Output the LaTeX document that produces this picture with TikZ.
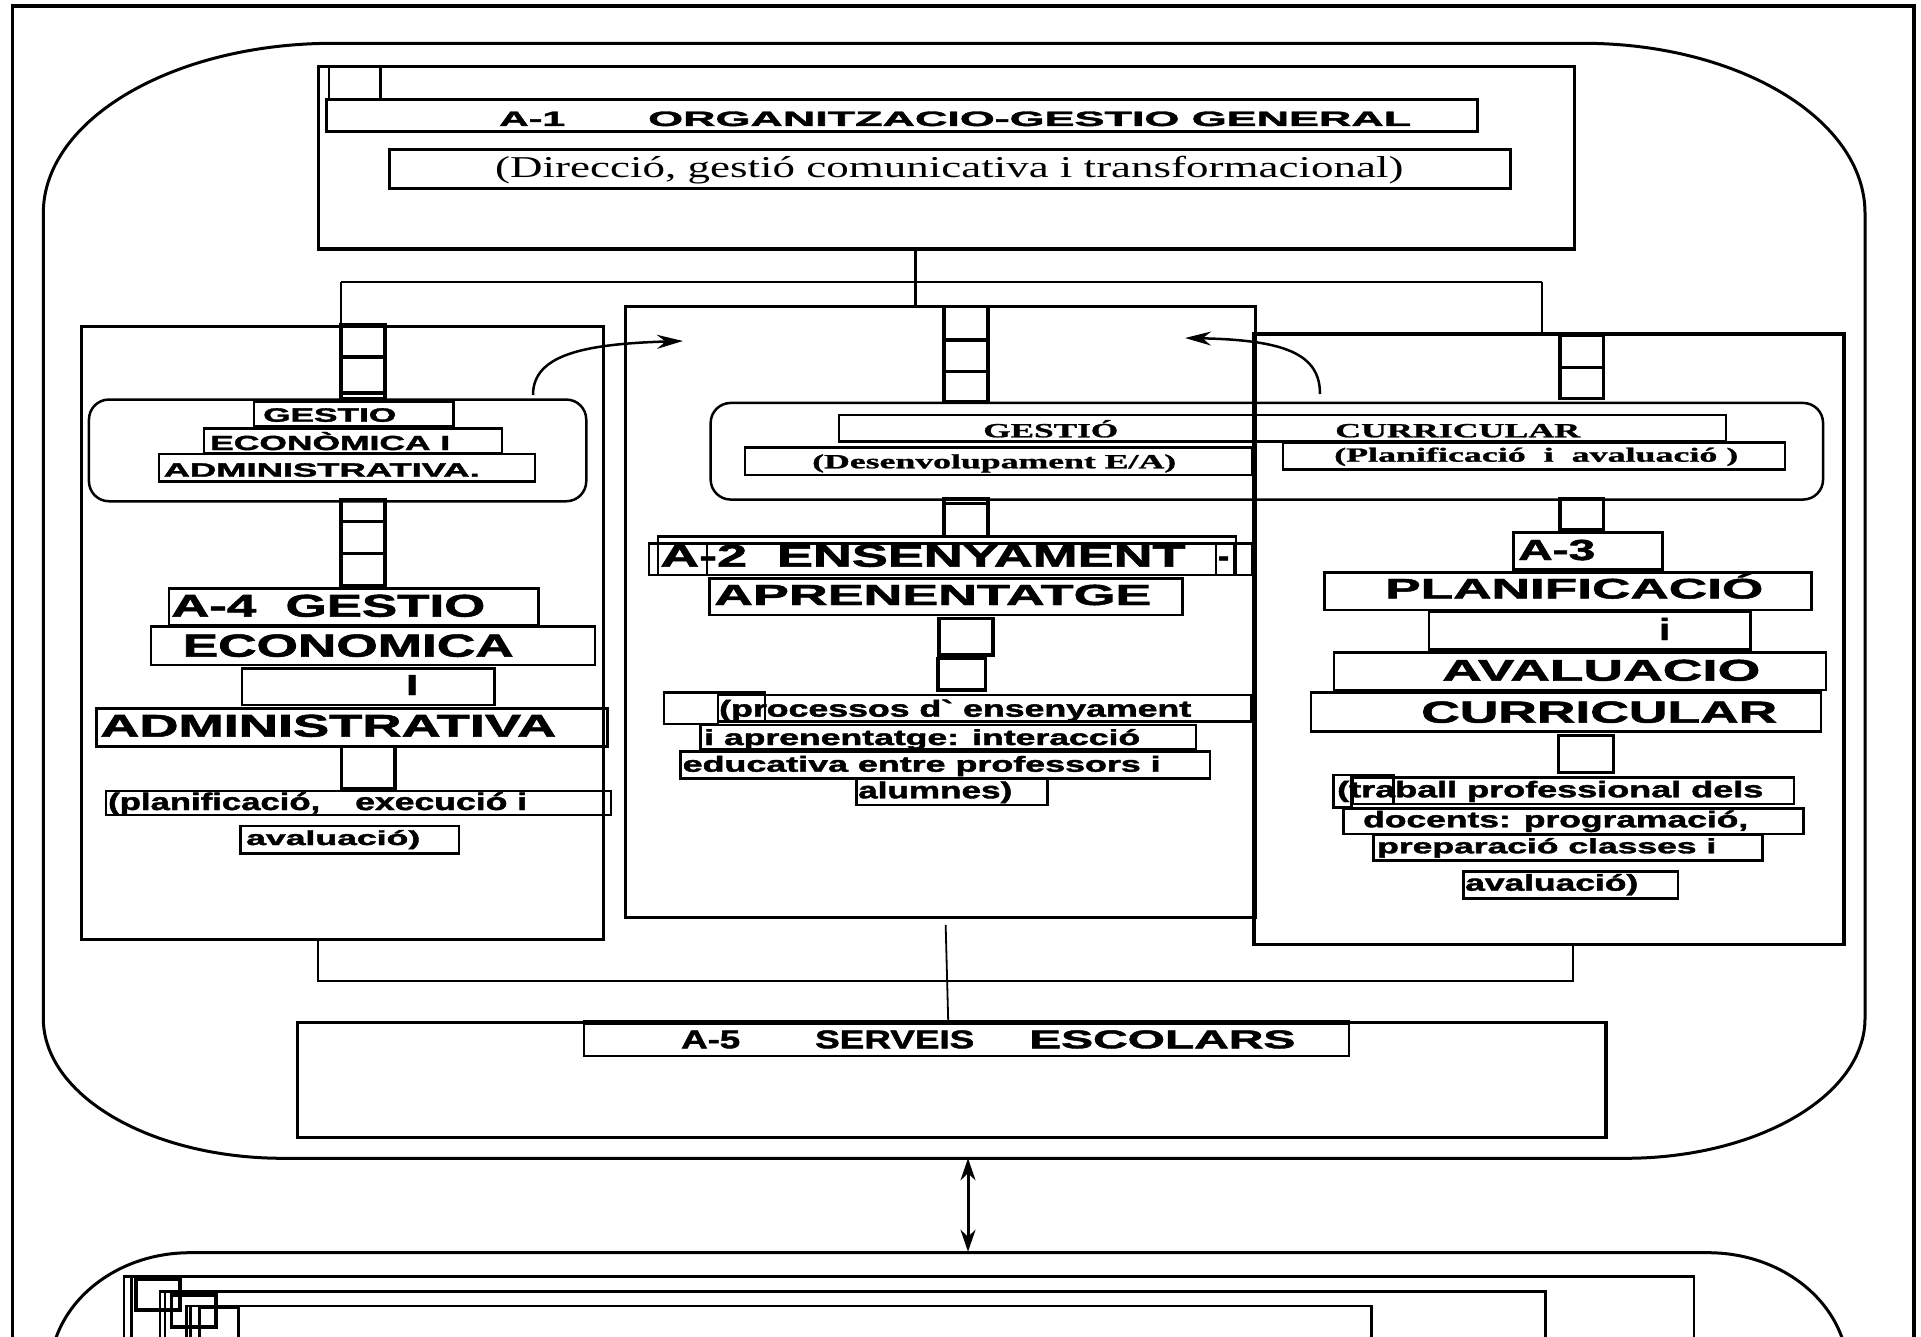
\documentclass[tikz,border=0pt]{standalone}
\usepackage{fontspec}
\setmainfont{Liberation Sans}[Ligatures=TeXOff, BoldFeatures={FakeBold=1.6}]
\newfontfamily\timesf{Liberation Serif}[BoldFeatures={FakeBold=1}]
\usepackage{graphicx}
\usetikzlibrary{arrows.meta}
\newcommand{\fitt}[3]{\resizebox{#1pt}{#2pt}{\vphantom{A}\smash{#3}}}

\begin{document}
\begin{tikzpicture}[x=1pt,y=-1pt]
\tikzstyle{panel} = [rectangle, draw=black, line width=3.3pt, anchor=north west, inner sep=0pt]
\tikzstyle{roundbox} = [panel, rounded corners=20pt, line width=2.5pt]
\tikzstyle{tbox} = [draw=black, line width=2.5pt]
\tikzstyle{rung} = [draw=black, line width=3.2pt]
\tikzstyle{outline} = [draw=black, line width=3.3pt]
\tikzstyle{txt} = [anchor=base west, inner sep=0pt, font=\bfseries]
\tikzstyle{serif} = [txt, font=\timesf\bfseries]
\tikzstyle{link} = [line width=2.8pt]
\tikzstyle{arrow} = [line width=2.5pt,-{Stealth[length=26pt,width=14pt]}]
\tikzstyle{dblarrow} = [line width=3pt,{Stealth[length=22pt,width=15pt]}-{Stealth[length=22pt,width=15pt]}]

\useasboundingbox (0,0) rectangle (1921,1337);

%frames
\draw[outline] (12.7,1345) -- (12.7,6) -- (1914,6) -- (1914,1345);
\draw[outline, line width=3pt] (333.3,43.3) -- (1583,43.3) arc[start angle=270, end angle=360, x radius=282, y radius=170]
  -- (1865,1018.3) arc[start angle=0, end angle=90, x radius=240, y radius=140]
  -- (283.3,1158.3) arc[start angle=90, end angle=180, x radius=240, y radius=140]
  -- (43.3,213.3) arc[start angle=180, end angle=270, x radius=290, y radius=170] -- cycle;
\draw[outline, line width=3pt] (50,1372.7) arc[start angle=180, end angle=270, x radius=140, y radius=120]
  -- (1708,1252.7) arc[start angle=270, end angle=360, x radius=140, y radius=120];

%nodes
\node[panel, minimum width=1256.2, minimum height=182.3] (a1) at (316.6,65) {};
\node[panel, minimum width=522, minimum height=613] (a4) at (80,325) {};
\node[panel, minimum width=630, minimum height=611] (a2) at (624,305) {};
\node[panel, minimum width=589.8, minimum height=610.4] (a3) at (1252.4,332.3) {};
\node[panel, minimum width=1308.7, minimum height=115] (a5) at (295.7,1020.7) {};
\node[roundbox, minimum width=497.3, minimum height=101.7] (gea) at (87.7,398.3) {};
\node[roundbox, minimum width=1112.4, minimum height=96.6] (gc) at (709.4,401.7) {};
\node[panel, line width=2.4pt, minimum width=765.3, minimum height=32.3] (a5bar) at (582.7,1022.7) {};
\draw[line width=4.5pt] (a5bar.north west) -- (a5bar.north east);

% A-1 bars
\draw[tbox] (329,66.7) rectangle (380.4,99.3);
\draw[tbox] (326.5,99.3) rectangle (1477.4,131.7);
\draw[tbox] (389.6,149.3) rectangle (1510.6,188.3);

% A-4 column
\draw[rung] (341,325) rectangle (385,357);
\draw[rung] (341,357) rectangle (385,393);
\draw[rung] (341,393) rectangle (385,398.3);
\draw[tbox] (254,401.7) rectangle (453.7,426.7);
\draw[tbox] (204.2,428.3) rectangle (501.8,453.3);
\draw[tbox] (159,454) rectangle (535,481.7);
\draw[rung] (341,500) rectangle (385,521.7);
\draw[rung] (341,521.7) rectangle (385,553.3);
\draw[rung] (341,553.3) rectangle (385,586);
\draw[tbox] (169,588.3) rectangle (538.7,625.7);
\draw[tbox] (151,626.7) rectangle (595,665);
\draw[tbox] (242,668.3) rectangle (494.4,705);
\draw[tbox] (96.4,708.3) rectangle (607.3,746.7);
\draw[rung] (341.3,746.7) rectangle (394.9,788.3);
\draw[tbox] (105.9,791) rectangle (611,815);
\draw[tbox] (240.6,826) rectangle (459.2,853.3);

% A-2 column
\draw[rung] (944,306.7) rectangle (988,340);
\draw[rung] (944,340) rectangle (988,371.7);
\draw[rung] (944,371.7) rectangle (988,401.7);
\draw[tbox] (838.8,415) rectangle (1725.9,441.7);
\draw[tbox] (745,447.7) rectangle (1251.8,475);
\draw[tbox] (1283,442.3) rectangle (1785.1,469.3);
\draw[rung] (944,498.3) rectangle (988,503.3);
\draw[rung] (944,503.3) rectangle (988,536.7);
\draw[tbox] (658,536.7) rectangle (1236,575);
\draw[tbox] (649,543.3) rectangle (1251.8,575);
\draw[tbox] (649,543.3) rectangle (707,575);
\draw[tbox] (1216,543.3) rectangle (1234,575);
\draw[tbox] (709.4,578.3) rectangle (1182.6,615);
\draw[rung] (939,618.3) rectangle (992.9,655);
\draw[rung] (938,658.3) rectangle (985.2,690);
\draw[tbox] (663.8,692.7) rectangle (718,724);
\draw[tbox] (718,692.7) rectangle (765,721.7);
\draw[tbox] (718.2,695) rectangle (1251.7,721.7);
\draw[tbox] (700.4,725) rectangle (1195.9,749.3);
\draw[tbox] (680.3,751.7) rectangle (1210.2,778.3);
\draw[tbox] (856.6,778.3) rectangle (1047.7,805);

% A-3 column
\draw[rung] (1560,335) rectangle (1603.5,367.3);
\draw[rung] (1560,367.3) rectangle (1603.5,398.3);
\draw[rung] (1560,498.3) rectangle (1603.5,530);
\draw[tbox] (1513.7,532.7) rectangle (1662.7,569.3);
\draw[tbox] (1324.7,572.7) rectangle (1811.6,610);
\draw[tbox] (1428.8,611.7) rectangle (1750.4,649.3);
\draw[tbox] (1334,652.7) rectangle (1826,690);
\draw[tbox] (1310.8,692.7) rectangle (1821,731.7);
\draw[rung] (1558.6,735.7) rectangle (1613.7,772.7);
\draw[tbox] (1333.3,775) rectangle (1351.6,807.3);
\draw[tbox] (1351.6,775) rectangle (1393.3,804);
\draw[tbox] (1352.4,777.3) rectangle (1794.1,804);
\draw[tbox] (1343.5,808.3) rectangle (1803.5,834);
\draw[tbox] (1373.7,835) rectangle (1762.7,860.7);
\draw[tbox] (1463.5,871.7) rectangle (1678.2,898.3);

% lower frames
\draw[tbox] (124,1345) -- (124,1276.7) -- (1694,1276.7) -- (1694,1345);
\draw[tbox] (131.7,1345) -- (131.7,1276.7);
\draw[rung] (136,1279.3) rectangle (180,1310);
\draw[tbox] (160,1345) -- (160,1291.7) -- (1545.5,1291.7) -- (1545.5,1345);
\draw[tbox] (165,1345) -- (165,1291.7);
\draw[rung] (171.7,1295) rectangle (216,1327);
\draw[tbox] (186.7,1345) -- (186.7,1306) -- (1371.3,1306) -- (1371.3,1345);
\draw[tbox] (190.7,1345) -- (190.7,1306);
\draw[rung] (199.3,1307) rectangle (238.3,1345);

% texts
\node[txt] (a1num) at (499,126) {\fitt{66}{14.3}{A-1}};
\node[txt] (a1name) at (648,126) {\fitt{763}{14.3}{ORGANITZACIO-GESTIO GENERAL}};
\node[txt, font=\timesf] (a1sub) at (495,178) {\fitt{908}{20}{(Direcció, gestió comunicativa i transformacional)}};

\node[txt] (geaa) at (263,421.7) {\fitt{133}{13.3}{GESTIO}};
\node[txt] (geab) at (210,450) {\fitt{240}{14}{ECONÒMICA I}};
\node[txt] (geac) at (163.5,476.7) {\fitt{316}{13.3}{ADMINISTRATIVA.}};
\node[txt] (a4a) at (171,616.7) {\fitt{314}{21.7}{A-4~~GESTIO}};
\node[txt] (a4b) at (182.5,656.7) {\fitt{331}{22}{ECONOMICA}};
\node[txt] (a4c) at (406,695) {\fitt{12}{20}{I}};
\node[txt] (a4d) at (100,736.7) {\fitt{456}{21.7}{ADMINISTRATIVA}};
\node[txt] (a4e) at (108,810) {\fitt{212}{16.5}{(planificació,}};
\node[txt] (a4g) at (355,810) {\fitt{172}{16.5}{execució i}};
\node[txt] (a4f) at (246,845) {\fitt{174}{14}{avaluació)}};

\node[serif] (gca) at (983,437.3) {\fitt{135}{13.3}{GESTIÓ}};
\node[serif] (gcb) at (1335,437.3) {\fitt{245}{13.3}{CURRICULAR}};
\node[serif] (gcc) at (812,468.3) {\fitt{364}{13.3}{(Desenvolupament E/A)}};
\node[serif] (gcd) at (1334,461.7) {\fitt{404}{13.3}{(Planificació~~i~~avaluació~)}};

\node[txt] (a2a) at (660,566.7) {\fitt{525}{21.7}{A-2~~ENSENYAMENT}};
\node[txt] (a2dash) at (1218,566.7) {\fitt{11}{21.7}{-}};
\node[txt] (a2b) at (714,605) {\fitt{437}{20}{APRENENTATGE}};
\node[txt] (a2c) at (719,716.7) {\fitt{472}{16}{(processos d` ensenyament}};
\node[txt] (a2d) at (704,745) {\fitt{436}{15}{i aprenentatge: interacció}};
\node[txt] (a2e) at (682.5,771.7) {\fitt{478}{15}{educativa entre professors i}};
\node[txt] (a2f) at (858,798.3) {\fitt{154}{16}{alumnes)}};

\node[txt] (a3a) at (1518,560) {\fitt{77}{20}{A-3}};
\node[txt] (a3b) at (1385,598.5) {\fitt{378}{19.5}{PLANIFICACIÓ}};
\node[txt] (a3c) at (1659,640) {\fitt{11}{21}{i}};
\node[txt] (a3d) at (1442,680.7) {\fitt{318}{20.7}{AVALUACIO}};
\node[txt] (a3e) at (1421,722.7) {\fitt{356}{21}{CURRICULAR}};
\node[txt] (a3f) at (1337,797.3) {\fitt{426}{15.6}{(traball professional dels}};
\node[txt] (a3g) at (1363,827.3) {\fitt{385}{15.6}{docents: programació,}};
\node[txt] (a3h) at (1377,853.3) {\fitt{339}{14.3}{preparació classes i}};
\node[txt] (a3i) at (1465,890.7) {\fitt{173}{15.7}{avaluació)}};

\node[txt] (a5num) at (681,1048.3) {\fitt{59}{17.7}{A-5}};
\node[txt] (a5name) at (815,1048.3) {\fitt{159}{17.7}{SERVEIS}};
\node[txt] (a5kind) at (1029,1048.3) {\fitt{266}{17.7}{ESCOLARS}};

%connectors
\coordinate (hub) at (915.3,282);
\coordinate (lhub) at (341,282);
\coordinate (rhub) at (1542,282);
\coordinate (lfoot) at (318,981);
\coordinate (rfoot) at (1573,981);
\coordinate (lstart) at (533,395);
\coordinate (ltip) at (683,341);
\coordinate (rstart) at (1320,394);
\coordinate (rtip) at (1185,338);
\coordinate (upbot) at (968,1158.3);
\coordinate (lowtop) at (968,1251.7);

\draw[link] (a1.south -| hub) -- (a2.north -| hub);
\draw[link] (lhub) -- (rhub);
\draw[link] (lhub) -- (lhub |- a4.north);
\draw[link] (rhub) -- (rhub |- a3.north);
\draw[link] (a4.south -| lfoot) -- (lfoot) -- (rfoot) -- (a3.south -| rfoot);
\draw[line width=1.8pt] ([xshift=5pt,yshift=-5.7pt]a2.south) -- ([xshift=-18.3pt]a5bar.north);
\draw[arrow] (lstart) .. controls +(0,-40) and +(-100,3) .. (ltip);
\draw[arrow] (rstart) .. controls +(0,-40) and +(100,2) .. (rtip);
\draw[dblarrow] (upbot) -- (lowtop);
\end{tikzpicture}
\end{document}
